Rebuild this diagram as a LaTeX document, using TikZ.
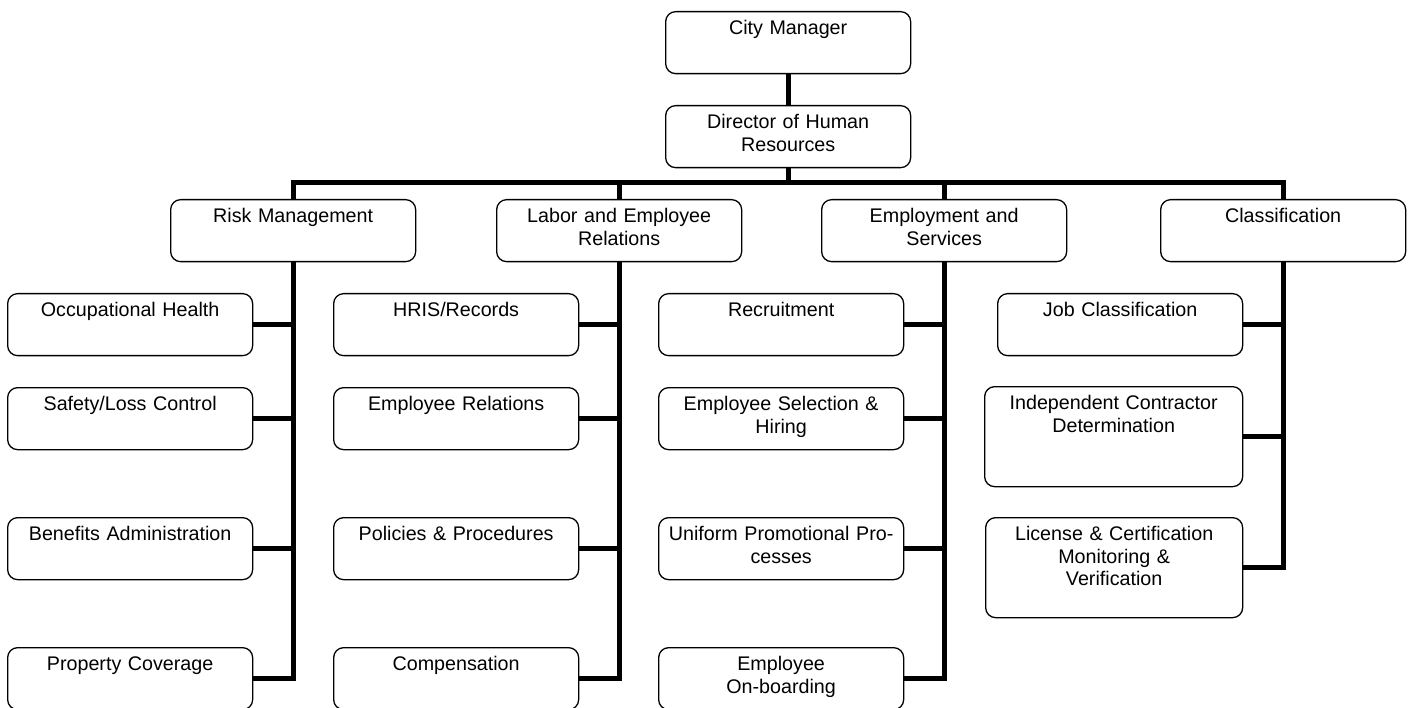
\documentclass[tikz,border=0pt]{standalone}
\usepackage{fontspec}
\setmainfont{Liberation Sans}
\usetikzlibrary{positioning}

\begin{document}
\begin{tikzpicture}[x=1pt, y=-1pt,
  unit/.style={draw, line width=1.3pt, rounded corners=10pt, anchor=north west,
    text width=245pt, align=center, inner xsep=0pt, inner ysep=0pt,
    text height=23pt, text depth=39pt, font=\fontsize{19.7}{22.5}\selectfont},
  tall/.style={text depth=77pt},
  conn/.style={line width=5pt, line join=miter}]
\useasboundingbox (0,0) rectangle (1413,708);

\node[unit] (cm)  at (665,11)  {City Manager};
\node[unit] (dir) at (665,105) {Director of Human\\Resources};

\node[unit] (rm)  at (170,199)  {Risk Management};
\node[unit] (ler) at (496,199)  {Labor and Employee\\Relations};
\node[unit] (es)  at (821,199)  {Employment and\\Services};
\node[unit] (cls) at (1160,199) {Classification};

\node[unit] (occ)  at (7,293) {Occupational Health};
\node[unit] (safe) at (7,387) {Safety/Loss Control};
\node[unit] (ben)  at (7,517) {Benefits Administration};
\node[unit] (prop) at (7,647) {Property Coverage};

\node[unit] (hris)   at (333,293) {HRIS/Records};
\node[unit] (emprel) at (333,387) {Employee Relations};
\node[unit] (pol)    at (333,517) {Policies \& Procedures};
\node[unit] (comp)   at (333,647) {Compensation};

\node[unit] (rec) at (658,293) {Recruitment};
\node[unit] (sel) at (658,387) {Employee Selection \&\\Hiring};
\node[unit] (uni) at (658,517) {Uniform Promotional Pro-\\cesses};
\node[unit] (onb) at (658,647) {Employee\\On-boarding};

\node[unit] (job) at (997,293) {Job Classification};
\node[unit, tall, text width=258pt] (ind) at (984,386) {Independent Contractor\\Determination};
\node[unit, tall, text width=257pt] (lic) at (985,517) {License \& Certification\\Monitoring \&\\Verification};

\coordinate (bus) at (dir.south |- 0,183);
\draw[conn] (cm.south) -- (dir.north);
\draw[conn] (dir.south) -- (bus);
\draw[conn] (rm.north) |- (bus) -| (cls.north);
\draw[conn] (ler.north) -- (ler.north |- bus);
\draw[conn] (es.north) -- (es.north |- bus);

\foreach \c in {occ,safe,ben,prop} \draw[conn] (rm.south) |- (\c.east);
\foreach \c in {hris,emprel,pol,comp} \draw[conn] (ler.south) |- (\c.east);
\foreach \c in {rec,sel,uni,onb} \draw[conn] (es.south) |- (\c.east);
\foreach \c in {job,ind,lic} \draw[conn] (cls.south) |- (\c.east);
\end{tikzpicture}
\end{document}
